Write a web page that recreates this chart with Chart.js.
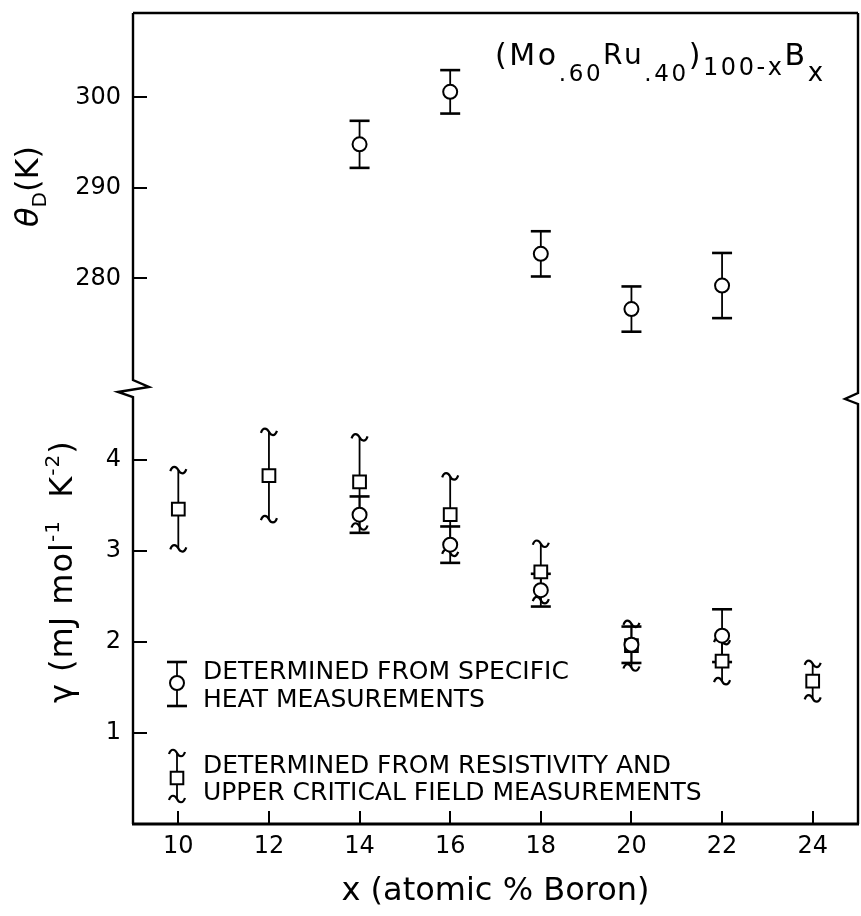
<!doctype html>
<html>
<head>
<meta charset="utf-8">
<title>(Mo.60Ru.40)100-xBx · θD and γ vs boron</title>
<style>
  html, body { margin: 0; padding: 0; background: #fff; }
  canvas { display: block; }
</style>
</head>
<body>
<canvas id="chart" width="861" height="916"></canvas>
<script src="https://cdn.jsdelivr.net/npm/chart.js@4.4.1/dist/chart.umd.min.js"></script>
<script>
// Debye temperature from specific heat (K)
const thetaX = [14, 16, 18, 20, 22];
const thetaK = [294.8, 300.6, 282.7, 276.6, 279.2];
const thetaErr = [2.6, 2.4, 2.5, 2.5, 3.6];

// gamma from specific heat (circles)
const heatX = [14, 16, 18, 20, 22];
const heatGamma = [3.40, 3.07, 2.57, 1.97, 2.07];
const heatErr = [0.20, 0.20, 0.18, 0.20, 0.29];

// gamma from resistivity + upper critical field (squares)
const resX = [10, 12, 14, 16, 18, 20, 22, 24];
const resGamma = [3.46, 3.83, 3.76, 3.40, 2.77, 1.96, 1.79, 1.57];
const resErr = [0.43, 0.48, 0.49, 0.42, 0.31, 0.24, 0.22, 0.19];

const xTicks = [10, 12, 14, 16, 18, 20, 22, 24];
const thetaTicks = [280, 290, 300];
const gammaTicks = [1, 2, 3, 4];

const FONT = '"DejaVu Sans", sans-serif';
Chart.defaults.font.family = FONT;
Chart.defaults.color = '#000';

function points(xs, ys, errs) {
  return xs.map((x, i) => ({ x, y: ys[i], err: errs[i] }));
}

function tilde(ctx, x, y) {
  ctx.beginPath();
  ctx.moveTo(x - 8, y + 1);
  ctx.bezierCurveTo(x - 6, y - 5, x - 2, y - 4, x, y);
  ctx.bezierCurveTo(x + 2, y + 4, x + 6, y + 5, x + 8, y - 1);
  ctx.stroke();
}

function cap(ctx, x, y) {
  ctx.beginPath();
  ctx.moveTo(x - 10, y);
  ctx.lineTo(x + 10, y);
  ctx.stroke();
}

// draws text made of runs with their own size / baseline shift
function drawRuns(ctx, x, y, runs) {
  for (const r of runs) {
    ctx.font = (r.style || '') + ' ' + r.size + 'px ' + FONT;
    ctx.fillText(r.t, x, y + (r.dy || 0));
    x += ctx.measureText(r.t).width;
  }
}

// keep the plot box fixed: no label overhang padding
function fixPadding(s) {
  s.paddingTop = 0;
  s.paddingBottom = 0;
  s.paddingLeft = 0;
  s.paddingRight = 0;
}

const errorBars = {
  id: 'errorBars',
  beforeDatasetsDraw(chart) {
    const ctx = chart.ctx;
    ctx.save();
    ctx.strokeStyle = '#000';
    chart.data.datasets.forEach((ds, i) => {
      const meta = chart.getDatasetMeta(i);
      const ys = chart.scales[ds.yAxisID];
      meta.data.forEach((pt, j) => {
        const d = ds.data[j];
        const top = ys.getPixelForValue(d.y + d.err);
        const bot = ys.getPixelForValue(d.y - d.err);
        ctx.lineWidth = 1.8;
        ctx.beginPath();
        ctx.moveTo(pt.x, top);
        ctx.lineTo(pt.x, bot);
        ctx.stroke();
        if (ds.capStyle === 'tilde') {
          ctx.lineWidth = 2.2;
          tilde(ctx, pt.x, top);
          tilde(ctx, pt.x, bot);
        } else {
          ctx.lineWidth = 2.6;
          cap(ctx, pt.x, top);
          cap(ctx, pt.x, bot);
        }
      });
    });
    ctx.restore();
  }
};

const decorations = {
  id: 'decorations',
  afterDraw(chart) {
    const { ctx, chartArea: a } = chart;
    const yb = chart.scales.yGamma.top;
    ctx.save();
    ctx.strokeStyle = '#000';
    ctx.fillStyle = '#000';
    ctx.lineJoin = 'miter';

    // frame, broken on both sides between the two panels
    ctx.lineWidth = 2.4;
    ctx.beginPath();
    ctx.moveTo(a.left, a.top);
    ctx.lineTo(a.right, a.top);
    ctx.stroke();

    ctx.beginPath();
    ctx.moveTo(a.left, a.top);
    ctx.lineTo(a.left, yb - 10);
    ctx.lineTo(a.left + 16, yb - 3);
    ctx.lineTo(a.left - 15, yb + 2);
    ctx.lineTo(a.left, yb + 7);
    ctx.lineTo(a.left, a.bottom);
    ctx.stroke();

    const yr = yb + 9;
    ctx.beginPath();
    ctx.moveTo(a.right, a.top);
    ctx.lineTo(a.right, yr - 6);
    ctx.lineTo(a.right - 13, yr);
    ctx.lineTo(a.right, yr + 5);
    ctx.lineTo(a.right, a.bottom);
    ctx.stroke();

    ctx.lineWidth = 3;
    ctx.beginPath();
    ctx.moveTo(a.left - 1, a.bottom);
    ctx.lineTo(a.right + 1, a.bottom);
    ctx.stroke();

    // compound formula
    ctx.textBaseline = 'alphabetic';
    ctx.textAlign = 'left';
    if ('letterSpacing' in ctx) ctx.letterSpacing = '2.6px';
    drawRuns(ctx, 495, 65, [
      { t: '(Mo', size: 30 },
      { t: '.60', size: 23, dy: 16 },
      { t: 'Ru', size: 28, dy: -1 },
      { t: '.40', size: 23, dy: 16 },
      { t: ')', size: 30 },
      { t: '100-x', size: 24, dy: 10 },
      { t: 'B', size: 30 },
      { t: 'x', size: 26, dy: 16 }
    ]);
    if ('letterSpacing' in ctx) ctx.letterSpacing = '0px';

    // y titles, rotated
    ctx.save();
    ctx.translate(38, 227);
    ctx.rotate(-Math.PI / 2);
    drawRuns(ctx, 0, 0, [
      { t: 'θ', size: 32, style: 'italic' },
      { t: 'D', size: 20, dy: 8 },
      { t: '(K)', size: 32 }
    ]);
    ctx.restore();

    ctx.save();
    ctx.translate(72, 703);
    ctx.rotate(-Math.PI / 2);
    if ('letterSpacing' in ctx) ctx.letterSpacing = '1px';
    drawRuns(ctx, 0, 0, [
      { t: 'γ (mJ mol', size: 32 },
      { t: '-1', size: 20, dy: -13 },
      { t: '  K', size: 32 },
      { t: '-2', size: 20, dy: -13 },
      { t: ')', size: 32 }
    ]);
    ctx.restore();

    // legend
    const gx = 177;
    ctx.lineWidth = 1.8;
    ctx.beginPath(); ctx.moveTo(gx, 662); ctx.lineTo(gx, 706); ctx.stroke();
    ctx.lineWidth = 2.6;
    cap(ctx, gx, 662); cap(ctx, gx, 706);
    ctx.lineWidth = 2;
    ctx.fillStyle = '#fff';
    ctx.beginPath(); ctx.arc(gx, 683, 7, 0, Math.PI * 2); ctx.fill(); ctx.stroke();

    ctx.lineWidth = 1.8;
    ctx.beginPath(); ctx.moveTo(gx, 753); ctx.lineTo(gx, 799); ctx.stroke();
    ctx.lineWidth = 2.2;
    tilde(ctx, gx, 753); tilde(ctx, gx, 799);
    ctx.lineWidth = 2;
    ctx.beginPath(); ctx.rect(gx - 6.3, 778 - 6.3, 12.6, 12.6); ctx.fill(); ctx.stroke();

    ctx.fillStyle = '#000';
    ctx.font = '25px ' + FONT;
    ctx.fillText('DETERMINED FROM SPECIFIC', 203, 679);
    ctx.fillText('HEAT MEASUREMENTS', 203, 707);
    ctx.fillText('DETERMINED FROM RESISTIVITY AND', 203, 773);
    ctx.fillText('UPPER CRITICAL FIELD MEASUREMENTS', 203, 800);
    ctx.restore();
  }
};

const common = {
  showLine: false,
  backgroundColor: '#fff',
  borderColor: '#000',
  pointBorderWidth: 2,
  pointBackgroundColor: '#fff',
  pointBorderColor: '#000'
};

const yTickOpts = { padding: 26, color: '#000', font: { size: 24 } };
const yGrid = { drawOnChartArea: false, tickLength: -14, color: '#000', lineWidth: 2 };

new Chart(document.getElementById('chart'), {
  type: 'scatter',
  data: {
    datasets: [
      { ...common, label: 'θD', data: points(thetaX, thetaK, thetaErr), yAxisID: 'yTheta',
        pointStyle: 'circle', pointRadius: 7, capStyle: 'bar' },
      { ...common, label: 'γ specific heat', data: points(heatX, heatGamma, heatErr), yAxisID: 'yGamma',
        pointStyle: 'circle', pointRadius: 7, capStyle: 'bar' },
      { ...common, label: 'γ resistivity / Hc2', data: points(resX, resGamma, resErr), yAxisID: 'yGamma',
        pointStyle: 'rect', pointRadius: 9, capStyle: 'tilde' }
    ]
  },
  options: {
    responsive: false,
    devicePixelRatio: 1,
    animation: false,
    events: [],
    layout: { autoPadding: false, padding: { left: 0, right: 3, top: 13, bottom: 0 } },
    plugins: { legend: { display: false }, tooltip: { enabled: false } },
    scales: {
      x: {
        type: 'linear', min: 9, max: 25,
        afterBuildTicks: s => { s.ticks = xTicks.map(v => ({ value: v })); },
        grid: { drawOnChartArea: false, tickLength: -13, color: '#000', lineWidth: 2 },
        border: { display: false },
        ticks: { padding: 21, color: '#000', font: { size: 24 } },
        title: { display: true, text: 'x (atomic % Boron)', color: '#000', font: { size: 32 },
                 padding: { top: 0, bottom: 5 } },
        afterFit: s => { s.height = 92; fixPadding(s); }
      },
      yGamma: {
        type: 'linear', position: 'left', stack: 'panels', stackWeight: 434,
        min: 0, max: 4.77,
        afterBuildTicks: s => { s.ticks = gammaTicks.map(v => ({ value: v })); },
        grid: yGrid, border: { display: false }, ticks: yTickOpts,
        afterFit: s => { s.width = 133; fixPadding(s); }
      },
      yTheta: {
        type: 'linear', position: 'left', stack: 'panels', stackWeight: 377,
        min: 267.66, max: 309.31,
        afterBuildTicks: s => { s.ticks = thetaTicks.map(v => ({ value: v })); },
        grid: yGrid, border: { display: false }, ticks: yTickOpts,
        afterFit: s => { s.width = 133; fixPadding(s); }
      }
    }
  },
  plugins: [errorBars, decorations]
});
</script>
</body>
</html>
